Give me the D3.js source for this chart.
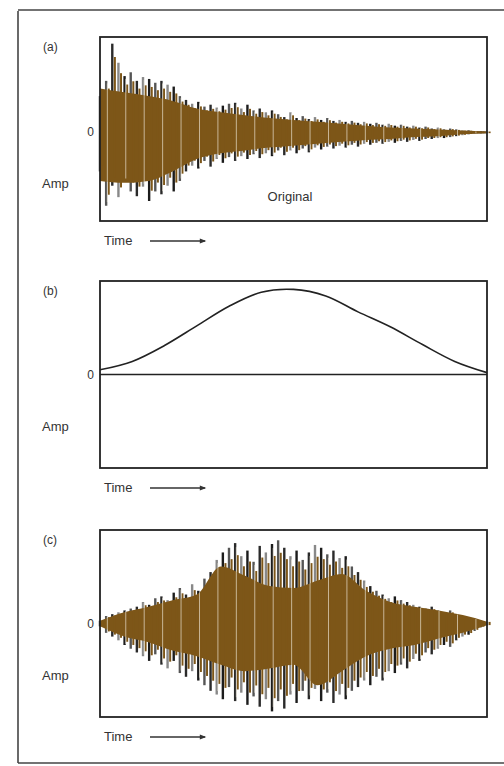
<!DOCTYPE html>
<meta charset="utf-8">
<script src="https://d3js.org/d3.v7.min.js"></script>
<style>
body { margin: 0; background: #fff; }
text { font-family: "Liberation Sans", Arial, sans-serif; fill: #333; }
</style>
<body>
<div id="chart"></div>
</body>
<script>

// ---- data (amplitude, box half-height = 1) ----
// (a) original: spike extremes, 64 samples
const aHi = [0.38,0.54,0.93,0.73,0.59,0.63,0.54,0.58,0.56,0.52,0.54,0.50,0.48,0.38,0.34,0.30,
             0.32,0.27,0.29,0.26,0.28,0.30,0.31,0.25,0.29,0.23,0.25,0.21,0.23,0.19,0.16,0.21,
             0.15,0.17,0.14,0.16,0.13,0.15,0.12,0.13,0.11,0.12,0.10,0.11,0.09,0.10,0.08,0.09,
             0.07,0.08,0.06,0.07,0.05,0.06,0.04,0.05,0.03,0.04,0.03,0.02,0.02,0.01,0.01,0.01];
const aLo = [-0.41,-0.77,-0.56,-0.68,-0.51,-0.62,-0.67,-0.57,-0.72,-0.62,-0.65,-0.56,-0.62,-0.51,-0.41,-0.35,
             -0.38,-0.30,-0.36,-0.28,-0.32,-0.26,-0.30,-0.25,-0.28,-0.23,-0.27,-0.22,-0.25,-0.19,-0.24,-0.19,
             -0.22,-0.17,-0.21,-0.16,-0.18,-0.15,-0.17,-0.14,-0.16,-0.13,-0.15,-0.12,-0.13,-0.11,-0.12,-0.10,
             -0.11,-0.09,-0.10,-0.08,-0.09,-0.07,-0.07,-0.06,-0.06,-0.05,-0.04,-0.03,-0.02,-0.01,-0.01,-0.01];
// (a) dense body of the waveform, 17 points
const aFillHi = [0.46,0.42,0.38,0.33,0.25,0.21,0.18,0.15,0.13,0.11,0.09,0.07,0.05,0.04,0.03,0.02,0.01];
const aFillLo = [-0.51,-0.53,-0.51,-0.41,-0.28,-0.22,-0.19,-0.16,-0.14,-0.12,-0.10,-0.08,-0.07,-0.05,-0.04,-0.02,-0.01];

// (b) envelope, 13 points
const bEnv = [0.05,0.14,0.31,0.52,0.73,0.88,0.91,0.84,0.67,0.51,0.32,0.14,0.02];

// (c) original x envelope
const cHi = [0.03,0.08,0.10,0.12,0.14,0.16,0.18,0.23,0.20,0.27,0.29,0.25,0.33,0.38,0.31,0.42,
             0.35,0.48,0.55,0.68,0.76,0.81,0.86,0.72,0.78,0.66,0.83,0.76,0.85,0.89,0.81,0.72,
             0.78,0.68,0.76,0.84,0.81,0.74,0.78,0.70,0.72,0.61,0.55,0.46,0.40,0.35,0.31,0.27,
             0.29,0.25,0.23,0.20,0.18,0.16,0.18,0.14,0.12,0.14,0.10,0.08,0.06,0.05,0.03,0.02];
const cLo = [-0.03,-0.10,-0.14,-0.18,-0.23,-0.27,-0.31,-0.35,-0.40,-0.33,-0.44,-0.48,-0.40,-0.53,-0.57,-0.51,
             -0.61,-0.66,-0.72,-0.76,-0.81,-0.68,-0.83,-0.74,-0.87,-0.78,-0.89,-0.81,-0.94,-0.83,-0.91,-0.76,
             -0.85,-0.72,-0.81,-0.70,-0.83,-0.74,-0.85,-0.76,-0.81,-0.72,-0.68,-0.61,-0.66,-0.57,-0.61,-0.51,
             -0.53,-0.44,-0.48,-0.38,-0.40,-0.31,-0.33,-0.27,-0.23,-0.25,-0.18,-0.14,-0.12,-0.08,-0.04,-0.02];
const cFillHi = [0.03,0.12,0.18,0.25,0.31,0.61,0.51,0.40,0.38,0.46,0.53,0.35,0.23,0.18,0.14,0.09,0.02];
const cFillLo = [-0.03,-0.14,-0.20,-0.29,-0.35,-0.44,-0.51,-0.48,-0.44,-0.66,-0.51,-0.35,-0.27,-0.23,-0.16,-0.10,-0.02];

const panelLabels = ["(a)", "(b)", "(c)"];

// ---- layout ----
const W = 504, H = 766;
const brown = "#7d5618";

const svg = d3.select("#chart").append("svg")
	.attr("width", W)
	.attr("height", H);

// outer frame of the scanned figure
svg.append("line").attr("x1", 18).attr("x2", 18).attr("y1", 11).attr("y2", 763)
	.attr("stroke", "#444").attr("stroke-width", 1.6);
svg.append("line").attr("x1", 18).attr("x2", W).attr("y1", 10).attr("y2", 10)
	.attr("stroke", "#444").attr("stroke-width", 1.6);
svg.append("line").attr("x1", 18).attr("x2", W).attr("y1", 763).attr("y2", 763)
	.attr("stroke", "#444").attr("stroke-width", 1.6);

svg.append("defs").append("marker")
	.attr("id", "arrow")
	.attr("viewBox", "0 -5 10 10")
	.attr("refX", 8).attr("refY", 0)
	.attr("markerWidth", 6).attr("markerHeight", 5)
	.attr("orient", "auto")
	.append("path")
	.attr("d", "M0,-4L10,0L0,4")
	.attr("fill", "#333");

const panels = [
	{label: panelLabels[0], top: 37, bottom: 221, yMin: -0.93, hi: aHi, lo: aLo, fHi: aFillHi, fLo: aFillLo, note: "Original"},
	{label: panelLabels[1], top: 281, bottom: 468, yMin: -1, env: bEnv},
	{label: panelLabels[2], top: 530, bottom: 717, yMin: -1, hi: cHi, lo: cLo, fHi: cFillHi, fLo: cFillLo}
];
const left = 100, right = 487;

panels.forEach(function(p) {
	const g = svg.append("g");
	const x = d3.scaleLinear().domain([0, 1]).range([left, right]);
	const y = d3.scaleLinear().domain([p.yMin, 1]).range([p.bottom, p.top]);

	// zero line (under the waveform)
	g.append("line")
		.attr("x1", left).attr("x2", right)
		.attr("y1", y(0)).attr("y2", y(0))
		.attr("stroke", "#222").attr("stroke-width", 1.6);

	if (p.hi) {
		const n = p.hi.length;
		const t = d3.range(n).map(i => i / (n - 1));
		// dark spikes
		g.selectAll("line.spike")
			.data(t)
			.enter().append("line")
			.attr("x1", d => x(d)).attr("x2", d => x(d))
			.attr("y1", (d, i) => y(p.lo[i])).attr("y2", (d, i) => y(p.hi[i]))
			.attr("stroke", (d, i) => ["#1c1c1c", "#555", "#2a2a2a", "#888"][i % 4])
			.attr("stroke-width", 2.4);
		// brown body
		const m = p.fHi.length;
		const area = d3.area()
			.x((d, i) => x(i / (m - 1)))
			.y0((d, i) => y(p.fLo[i]))
			.y1(d => y(d))
			.curve(d3.curveMonotoneX);
		g.append("path").datum(p.fHi)
			.attr("d", area)
			.attr("fill", brown);
		// brown tips over part of the spikes and light gaps
		g.selectAll("line.tip")
			.data(t)
			.enter().append("line")
			.attr("x1", d => x(d) + 2.6).attr("x2", d => x(d) + 2.6)
			.attr("y1", (d, i) => y(p.lo[i] * 0.85)).attr("y2", (d, i) => y(p.hi[i] * 0.85))
			.attr("stroke", brown)
			.attr("stroke-width", 2);
		g.selectAll("line.gap")
			.data(t.filter((d, i) => i % 3 === 1))
			.enter().append("line")
			.attr("x1", d => x(d) + 1.2).attr("x2", d => x(d) + 1.2)
			.attr("y1", d => y(p.lo[Math.round(d * (n - 1))] * 0.95))
			.attr("y2", d => y(p.hi[Math.round(d * (n - 1))] * 0.95))
			.attr("stroke", "#f4eee0")
			.attr("stroke-width", 0.8)
			.attr("opacity", 0.8);
	}

	if (p.env) {
		const k = p.env.length;
		const line = d3.line()
			.x((d, i) => x(i / (k - 1)))
			.y(d => y(d))
			.curve(d3.curveCatmullRom);
		g.append("path").datum(p.env)
			.attr("d", line)
			.attr("fill", "none")
			.attr("stroke", "#222")
			.attr("stroke-width", 1.6);
	}

	// box
	g.append("rect")
		.attr("x", left).attr("y", p.top)
		.attr("width", right - left).attr("height", p.bottom - p.top)
		.attr("fill", "none").attr("stroke", "#222").attr("stroke-width", 1.8);

	g.append("text").attr("x", 43).attr("y", p.top + 14)
		.style("font-size", "12px").text(p.label);
	g.append("text").attr("x", 94).attr("y", y(0) + 4)
		.attr("text-anchor", "end").style("font-size", "12px").text("0");
	g.append("text").attr("x", 42).attr("y", y(0) + 56)
		.style("font-size", "13px").text("Amp");
	if (p.note) {
		g.append("text").attr("x", 290).attr("y", p.bottom - 20)
			.attr("text-anchor", "middle").style("font-size", "13px").text(p.note);
	}
	g.append("text").attr("x", 104).attr("y", p.bottom + 24)
		.style("font-size", "13px").text("Time");
	g.append("line")
		.attr("x1", 150).attr("x2", 205)
		.attr("y1", p.bottom + 20).attr("y2", p.bottom + 20)
		.attr("stroke", "#333").attr("stroke-width", 1.3)
		.attr("marker-end", "url(#arrow)");
});

</script>
